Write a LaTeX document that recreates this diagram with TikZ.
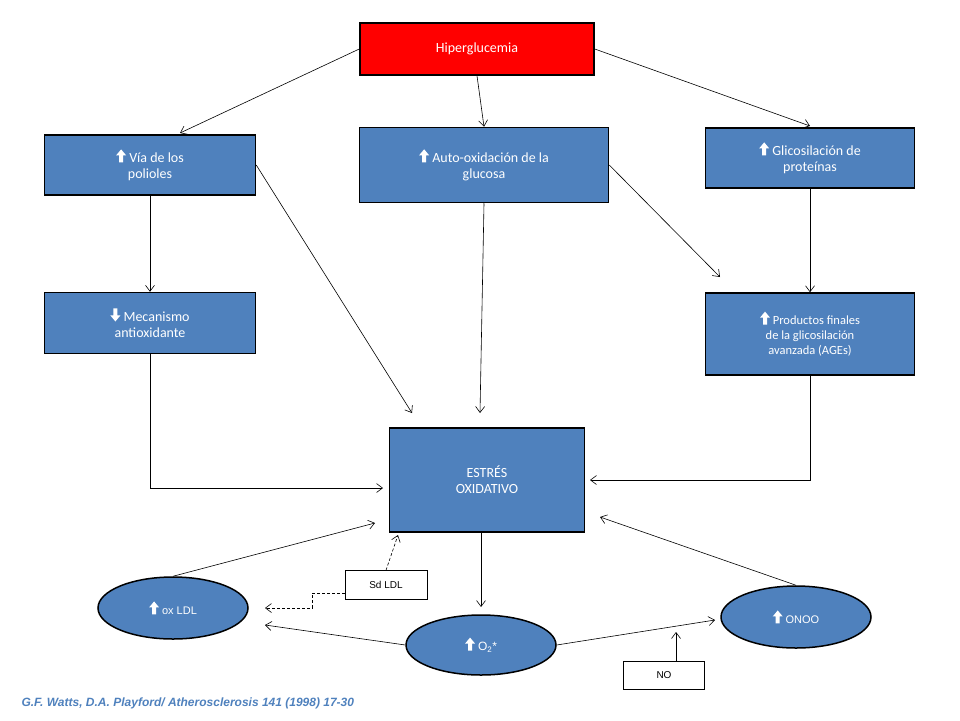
\documentclass[tikz,border=0pt]{standalone}
\usepackage{fontspec}
\setmainfont{Carlito}
\newfontfamily\arialf{Liberation Sans}
\usetikzlibrary{arrows.meta,shapes.geometric}
\newcommand{\myup}{\tikz[baseline=0pt,x=1pt,y=1pt]\fill[white](-2,0)--(2,0)--(2,7)--(5,7)--(0,13)--(-5,7)--(-2,7)--cycle;}
\newcommand{\mydown}{\tikz[baseline=0pt,x=1pt,y=1pt]\fill[white](-2,13)--(2,13)--(2,6)--(5,6)--(0,0)--(-5,6)--(-2,6)--cycle;}
\definecolor{boxblue}{RGB}{79,129,189}
\definecolor{citeblue}{RGB}{79,129,189}
\tikzset{
 box/.style={draw=black,line width=1.5pt,fill=boxblue,text=white,font=\fontsize{14}{16}\selectfont,align=center,inner sep=2pt},
 ell/.style={ellipse,draw=black,line width=1.5pt,fill=boxblue,text=white,font=\fontsize{13}{15}\selectfont,inner sep=0pt},
 lbl/.style={draw=black,line width=0.5pt,fill=white,font=\arialf\fontsize{10}{12}\selectfont,inner sep=0pt},
 arr/.style={draw=black,line width=0.6pt,-{Straight Barb[length=6pt,width=9pt]}},
}
\begin{document}
\begin{tikzpicture}[x=1pt,y=-1pt]
\useasboundingbox (0,0) rectangle (960,720);
\node[box,fill=red,minimum width=234pt,minimum height=52pt] (h) at (477,49) {Hiperglucemia};
\node[box,minimum width=211pt,minimum height=60pt] (via) at (150,165) {\myup\ Vía de los\\polioles};
\node[box,minimum width=249pt,minimum height=75pt] (auto) at (484,165) {\myup\ Auto-oxidación de la\\glucosa};
\node[box,minimum width=209pt,minimum height=60pt] (gli) at (810,158) {\myup\ Glicosilación de\\proteínas};
\node[box,minimum width=211pt,minimum height=61pt] (mec) at (150,323) {\mydown\ Mecanismo\\antioxidante};
\node[box,minimum width=209pt,minimum height=82pt,font=\fontsize{12.5}{15}\selectfont] (prod) at (810,334) {\myup\ Productos finales\\de la glicosilación\\avanzada (AGEs)};
\node[box,minimum width=195pt,minimum height=104pt] (est) at (487,480) {ESTRÉS\\OXIDATIVO};
\node[ell,minimum width=150pt,minimum height=62pt] (ox) at (173,608) {\myup\ {\arialf\fontsize{11}{13}\selectfont ox LDL}};
\node[ell,minimum width=150pt,minimum height=60pt] (o2) at (481,645) {\myup\ {\arialf\fontsize{12}{13}\selectfont O\textsubscript{2}*}};
\node[ell,minimum width=150pt,minimum height=62pt] (onoo) at (796,617) {\myup\ {\arialf\fontsize{11}{13}\selectfont ONOO}};
\node[lbl,minimum width=82pt,minimum height=29pt] (sd) at (386,585) {Sd LDL};
\node[lbl,minimum width=81pt,minimum height=28pt] (no) at (664,675) {NO};
\node[anchor=west,text=citeblue,font=\arialf\bfseries\itshape\fontsize{12}{14}\selectfont] (cite) at (18,703) {G.F. Watts, D.A. Playford/ Atherosclerosis 141 (1998) 17-30};
\coordinate (viaT) at (180,133);
\coordinate (estL1) at (412,413);
\coordinate (estT) at (480,413);
\coordinate (prodL) at (720,277);
\coordinate (gliT) at (810,126);
\coordinate (mecB) at (150,488);
\coordinate (estL) at (383,488);
\coordinate (prodB) at (810,480);
\coordinate (estR) at (590,480);
\coordinate (estB) at (481,607);
\coordinate (oxR1) at (265,625);
\coordinate (onooL) at (715,620);
\coordinate (estR2) at (600,517);
\coordinate (estL2) at (375,523);
\coordinate (estL3) at (398,535);
\coordinate (oxR2) at (265,608);
\coordinate (noT) at (676,632);
\draw[arr] (h.west) -- (viaT);
\draw[arr] (h.south) -- (auto.north);
\draw[arr] (h.east) -- (gliT);
\draw[arr] (via.south) -- (mec.north);
\draw[arr] (via.east) -- (estL1);
\draw[arr] (auto.south) -- (estT);
\draw[arr] (auto.east) -- (prodL);
\draw[arr] (gli.south) -- (prod.north);
\draw[arr] (mec.south) -- (mecB) -- (estL);
\draw[arr] (prod.south) -- (prodB) -- (estR);
\draw[arr] (est.south -| estB) -- (estB);
\draw[arr] (o2.west) -- (oxR1);
\draw[arr] (o2.east) -- (onooL);
\draw[arr] (onoo.north) -- (estR2);
\draw[arr] (ox.north) -- (estL2);
\draw[arr,densely dashed] (sd.north) -- (estL3);
\draw[arr,densely dashed] (sd.west |- 0,593) -- (312,593) -- (312,608) -- (oxR2);
\draw[arr] (no.north -| noT) -- (noT);
\end{tikzpicture}
\end{document}
